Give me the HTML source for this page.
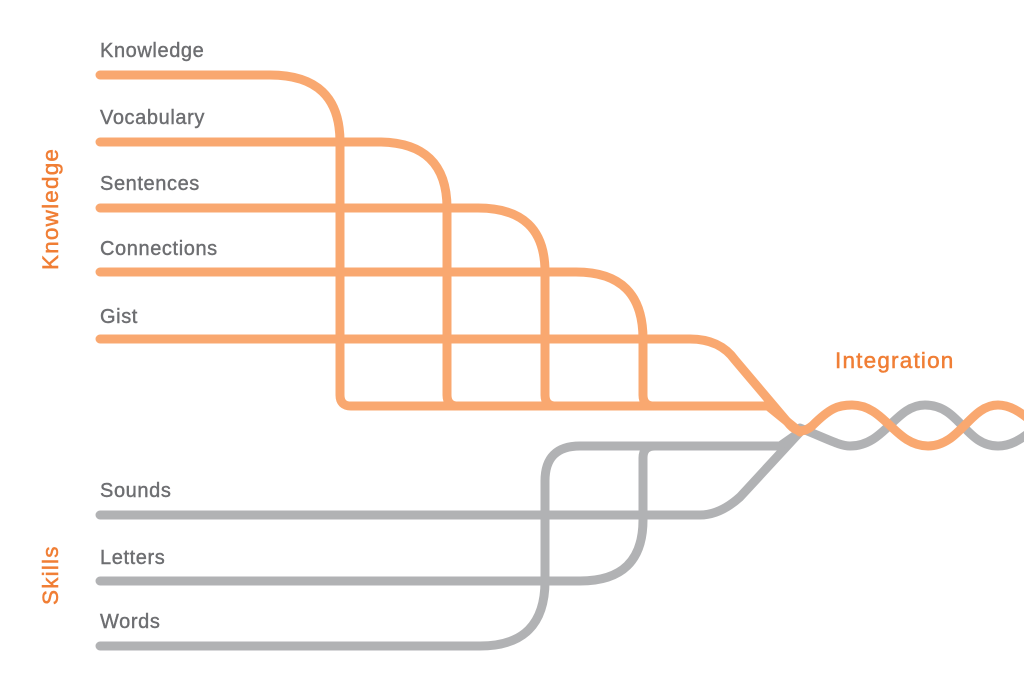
<!DOCTYPE html>
<html><head><style>
body{margin:0;background:#fff;width:1024px;height:686px;overflow:hidden}
svg{display:block}
text{font-family:"Liberation Sans",sans-serif}
</style></head><body>
<svg width="1024" height="686" viewBox="0 0 1024 686">
<g fill="none" stroke-width="9" stroke-linecap="round" stroke-linejoin="round">
<g stroke="#B1B2B4">
<path d="M100 515 H700 Q720 515 740 497 L800 432"/>
<path d="M100 581 H580 Q643 581 643 520 V458 Q643 446 655 446 H780 L800 432"/>
<path d="M100 646 H480 Q545 646 545 581 V481 Q545 446 580 446 H780"/>
<path d="M800 428 C830 440 840 446 850 446 C885 446 895 405 925 405 C960 405 965 446 998 446 C1010 446 1020 440 1030 432"/>
</g>
<g stroke="#F9A870">
<path d="M100 75 H270 Q340 75 340 142 V395 Q340 406 351 406 H768 L800 432"/>
<path d="M100 142 H378 Q447 142 447 208 V395 Q447 406 458 406"/>
<path d="M100 208 H478 Q545 208 545 272 V395 Q545 406 556 406"/>
<path d="M100 272 H576 Q643 272 643 339 V395 Q643 406 654 406"/>
<path d="M100 339 H690 Q720 339 735 360 L790 425 Q800 436 812 426 C830 408 838 405 852 405 C885 405 895 446 928 446 C960 446 970 405 998 405 C1010 405 1020 412 1030 420"/>
</g>
</g>
<g fill="#6D6E71" font-size="20" letter-spacing="0.6" stroke="#6D6E71" stroke-width="0.4">
<text x="100" y="57">Knowledge</text>
<text x="100" y="124">Vocabulary</text>
<text x="100" y="190">Sentences</text>
<text x="100" y="255">Connections</text>
<text x="100" y="323">Gist</text>
<text x="100" y="497">Sounds</text>
<text x="100" y="564">Letters</text>
<text x="100" y="628">Words</text>
</g>
<g fill="#F07E35" font-size="22.5" letter-spacing="1.2" stroke="#F07E35" stroke-width="0.5">
<text x="835" y="368">Integration</text>
<text transform="translate(58 270) rotate(-90)">Knowledge</text>
<text transform="translate(58 605) rotate(-90)">Skills</text>
</g>
</svg>
</body></html>
